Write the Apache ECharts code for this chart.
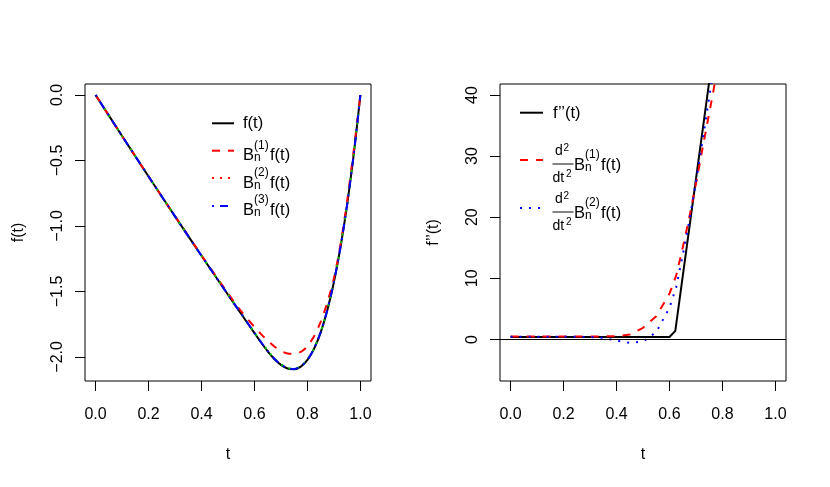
<!DOCTYPE html>
<html>
<head>
<meta charset="utf-8">
<script src="https://cdn.jsdelivr.net/npm/echarts@6/dist/echarts.min.js"></script>
<style>
  body { margin: 0; background: #fff; }
  #chart { width: 830px; height: 487px; }
</style>
</head>
<body>
<div id="chart"></div>
<script>
// left panel: f(t) and its Bernstein approximations
const LEFT_T = [0, 0.1, 0.2, 0.3, 0.4, 0.5, 0.55, 0.6, 0.625, 0.65, 0.675, 0.7, 0.725, 0.75, 0.775, 0.8, 0.825, 0.85, 0.875, 0.9, 0.925, 0.95, 0.975, 1];
const F_VALUES = [0, -0.313, -0.622, -0.927, -1.228, -1.525, -1.672, -1.818, -1.890, -1.957, -2.016, -2.061, -2.089, -2.094, -2.074, -2.023, -1.938, -1.813, -1.644, -1.428, -1.160, -0.836, -0.450, 0];
const B1_VALUES = [0, -0.313, -0.622, -0.926, -1.225, -1.515, -1.652, -1.772, -1.826, -1.876, -1.920, -1.955, -1.974, -1.976, -1.962, -1.918, -1.842, -1.732, -1.585, -1.400, -1.140, -0.810, -0.420, 0];
const B2_VALUES = [0, -0.313, -0.622, -0.927, -1.228, -1.524, -1.670, -1.814, -1.885, -1.952, -2.012, -2.057, -2.085, -2.090, -2.071, -2.020, -1.935, -1.810, -1.641, -1.425, -1.157, -0.834, -0.449, 0];
const B3_VALUES = [0, -0.313, -0.622, -0.927, -1.228, -1.525, -1.671, -1.816, -1.888, -1.955, -2.014, -2.059, -2.087, -2.093, -2.073, -2.022, -1.937, -1.812, -1.643, -1.427, -1.159, -0.835, -0.450, 0];

// right panel: second derivatives
const FPP_T = [0, 0.6, 0.622, 0.8];
const FPP_VALUES = [0.4, 0.4, 1.4, 58.1];
const RIGHT_T = [0, 0.1, 0.2, 0.3, 0.35, 0.4, 0.45, 0.5, 0.55, 0.6, 0.625, 0.65, 0.675, 0.7, 0.725, 0.75, 0.775, 0.8];
const D2B1_VALUES = [0.5, 0.5, 0.5, 0.5, 0.5, 0.55, 0.8, 1.9, 3.8, 7.5, 10.4, 15.0, 20.0, 25.5, 31.3, 37.0, 42.8, 48.5];
const D2B2_VALUES = [0.45, 0.45, 0.45, 0.4, 0.25, -0.2, -0.55, -0.35, 1.2, 5.2, 8.5, 13.8, 19.4, 25.8, 32.6, 39.6, 46.5, 53.4];

const X_TICKS = [0, 0.2, 0.4, 0.6, 0.8, 1.0];
const LEFT_Y_TICKS = [0, -0.5, -1.0, -1.5, -2.0];
const RIGHT_Y_TICKS = [0, 10, 20, 30, 40];

const FONT = 'Liberation Sans';
const pairs = (ts, vs) => ts.map((t, i) => [t, vs[i]]);
const minus = s => s.replace('-', '\u2212');

function xAxis(gridIndex) {
  return {
    gridIndex, type: 'value', min: -0.04, max: 1.04,
    axisLine: { show: false, onZero: false }, splitLine: { show: false },
    axisTick: { show: true, customValues: X_TICKS, length: 10, lineStyle: { color: '#000' } },
    axisLabel: { customValues: X_TICKS, formatter: v => v.toFixed(1), margin: 26, fontSize: 16, color: '#000', fontFamily: FONT },
    name: 't', nameLocation: 'middle', nameGap: 66,
    nameTextStyle: { fontSize: 16, color: '#000', fontFamily: FONT }
  };
}

function yAxis(gridIndex, min, max, ticks, fmt, name) {
  return {
    gridIndex, type: 'value', min, max,
    axisLine: { show: false, onZero: false }, splitLine: { show: false },
    axisTick: { show: true, customValues: ticks, length: 10, lineStyle: { color: '#000' } },
    axisLabel: { customValues: ticks, formatter: fmt, rotate: 90, margin: 19, fontSize: 16, color: '#000', fontFamily: FONT },
    name, nameLocation: 'middle', nameGap: 58,
    nameTextStyle: { fontSize: 16, color: '#000', fontFamily: FONT }
  };
}

function lineSeries(xi, data, color, dash) {
  return {
    type: 'line', xAxisIndex: xi, yAxisIndex: xi, data, showSymbol: false,
    smooth: xi === 0 ? 0.25 : false, clip: true, silent: true,
    lineStyle: { color, width: 2, type: dash }
  };
}

// legend pieces (plotmath-like labels)
function txt(x, base, s, size) {
  return { type: 'text', silent: true, style: { text: s, x, y: base - 0.35 * size + 1.5, verticalAlign: 'middle', fill: '#000', font: size + 'px "' + FONT + '"' } };
}
function seg(x1, x2, y, color, dash) {
  return { type: 'line', silent: true, shape: { x1, y1: y, x2, y2: y }, style: { stroke: color, lineWidth: 2, lineDash: dash } };
}
function bern(x, base, k) {
  return [txt(x, base, 'B', 16.5), txt(x + 11, base - 11.5, '(' + k + ')', 12), txt(x + 11, base + 0.7, 'n', 12), txt(x + 27, base, 'f(t)', 16.5)];
}
function fracRow(bar, k) {
  return [
    txt(555, bar - 9, 'd', 14), txt(563.5, bar - 14, '2', 10),
    { type: 'line', silent: true, shape: { x1: 552.5, y1: bar, x2: 573.5, y2: bar }, style: { stroke: '#333', lineWidth: 1.2 } },
    txt(552.5, bar + 17.5, 'dt', 14), txt(566, bar + 12, '2', 10)
  ].concat(bern(574, bar + 5.3, k));
}

const graphics = [
  seg(212, 234, 123.3, '#000', null), txt(243, 127.5, 'f(t)', 16.5),
  seg(212, 234, 150.7, '#ff0000', [8, 8])
].concat(bern(243, 160, 1), [
  seg(212, 234, 178, '#ff0000', [2, 6])
], bern(243, 187.3, 2), [
  seg(212, 234, 206, '#0000ff', [2, 6, 8, 6])
], bern(243, 214.3, 3), [
  seg(520, 543, 112.7, '#000', null), txt(553, 117.7, 'f\u2019\u2019(t)', 16.5),
  seg(520, 543, 160, '#ff0000', [8, 8])
], fracRow(164, 1), [
  seg(520, 543, 208, '#0000ff', [2, 7])
], fracRow(212, 2));

const chart = echarts.init(document.getElementById('chart'));
chart.setOption({
  animation: false,
  backgroundColor: '#fff',
  grid: [
    { left: 85, top: 84, width: 286, height: 297, show: true, borderColor: '#000', borderWidth: 1 },
    { left: 500, top: 84, width: 286, height: 297, show: true, borderColor: '#000', borderWidth: 1 }
  ],
  xAxis: [xAxis(0), xAxis(1)],
  yAxis: [
    yAxis(0, -2.184, 0.084, LEFT_Y_TICKS, v => minus(v.toFixed(1)), 'f(t)'),
    yAxis(1, -6.8, 41.8, RIGHT_Y_TICKS, v => String(v), 'f\u2019\u2019(t)')
  ],
  series: [
    lineSeries(0, pairs(LEFT_T, F_VALUES), '#000', 'solid'),
    lineSeries(0, pairs(LEFT_T, B1_VALUES), '#ff0000', [8, 8]),
    lineSeries(0, pairs(LEFT_T, B2_VALUES), '#00cd00', [2, 6]),
    lineSeries(0, pairs(LEFT_T, B3_VALUES), '#0000ff', [2, 6, 8, 6]),
    Object.assign(lineSeries(1, pairs(FPP_T, FPP_VALUES), '#000', 'solid'), {
      markLine: {
        silent: true, symbol: 'none', label: { show: false },
        lineStyle: { color: '#000', width: 1, type: 'solid' },
        data: [{ yAxis: 0 }]
      }
    }),
    lineSeries(1, pairs(RIGHT_T, D2B1_VALUES), '#ff0000', [8, 8]),
    lineSeries(1, pairs(RIGHT_T, D2B2_VALUES), '#0000ff', [2, 7])
  ],
  graphic: graphics
});
</script>
</body>
</html>
